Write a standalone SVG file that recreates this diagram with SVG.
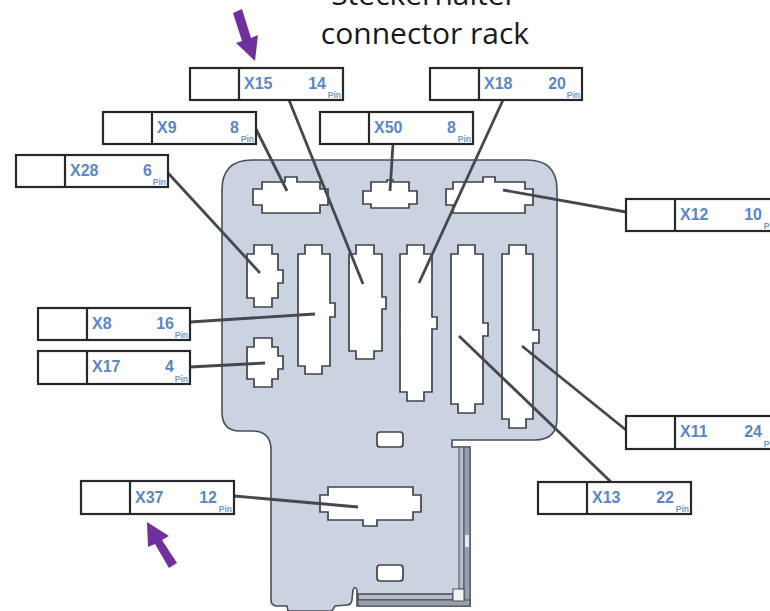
<svg xmlns="http://www.w3.org/2000/svg" width="770" height="611" viewBox="0 0 770 611">
<style>
.title{font-family:"Open Sans","Liberation Sans",sans-serif;font-size:30px;fill:#1a1a1a;text-anchor:middle}
.board{fill:#cbd2e0;stroke:#4a4f58;stroke-width:1.6}
.slot{fill:#fff;stroke:#3f434b;stroke-width:1.7}
.box{fill:#fff;stroke:#26282c;stroke-width:2.2}
.name,.num{font-family:"Liberation Sans",Arial,sans-serif;font-weight:700;font-size:16px;fill:#5b87c9}
.num{font-size:16px;text-anchor:end}
.pin{font-family:"Liberation Sans",Arial,sans-serif;font-weight:700;font-size:8.5px;fill:#6f97d0;text-anchor:end}
.conn{fill:none;stroke:#45484e;stroke-width:2.8}
.arrow{fill:#7030a0}
</style>
<text class="title" x="424" y="5">Steckerhalter</text>
<text class="title" x="425" y="44">connector rack</text>
<g id="board">
<path class="board" d="M222 190Q222 160 252 160L527 160Q557 160 557 190L557 418Q557 440 535 440L452 440L452 447L470 447L470 606L357 606L357 590Q355 585 353 590L352 600Q351 605 347 605L335 606L332 611L288 611L287 606L276 606Q271 605 271 600L271 450Q271 431 252 431L240 431Q222 431 222 412Z"/>
<rect x="459" y="447" width="5" height="142" fill="#b4bccb" stroke="#4a4f58"/>
<rect x="464" y="447" width="6" height="159" fill="#98a0b0" stroke="#4a4f58"/>
<rect x="465" y="535" width="4" height="12" fill="#e6e9ef"/>
<rect x="358" y="594" width="95" height="6" fill="#b4bccb" stroke="#3f434b" stroke-width="1.4"/>
<rect x="358" y="600" width="112" height="6" fill="#98a0b0" stroke="#4a4f58"/>
<rect x="453" y="589" width="11" height="12" fill="#f2f3f6" stroke="#4a4f58"/>
</g>
<g id="slots">
<path id="slot-x9" class="slot" d="M285 182V177H297V182H320V189H328V205H320V213H262V205H253V189H262V182Z"/>
<path id="slot-x50" class="slot" d="M371 182H387V180H393V182H409V191H417V204H409V208H371V204H363V191H371Z"/>
<path id="slot-x12" class="slot" d="M453 182H483V177H495V182H525V189H533V205H525V213H453V205H446V189H453Z"/>
<path id="slot-x28" class="slot" d="M254 245H272V254H278V270H283V283H278V298H272V307H254V298H247V254H254Z"/>
<path id="slot-x8" class="slot" d="M305 245H322V254H330V303H335V317H330V366H322V374H305V366H298V254H305Z"/>
<path id="slot-x15" class="slot" d="M356 245H374V254H382V297H386V309H382V351H374V359H356V351H349V254H356Z"/>
<path id="slot-x18" class="slot" d="M407 245H424V254H432V317H437V329H432V392H424V401H407V392H400V254H407Z"/>
<path id="slot-x13" class="slot" d="M458 245H475V254H483V323H488V336H483V404H475V413H458V404H451V254H458Z"/>
<path id="slot-x11" class="slot" d="M509 245H526V254H533V330H539V343H533V419H526V428H509V419H502V254H509Z"/>
<path id="slot-x17" class="slot" d="M254 338H272V347H278V356H283V369H278V379H272V387H254V379H247V347H254Z"/>
<path id="slot-x37" class="slot" d="M328 487H413V495H421V512H413V520H377V526H363V520H328V512H320V495H328Z"/>
<rect class="slot" x="377" y="432" width="26" height="15" rx="3"/>
<rect class="slot" x="377" y="565" width="26" height="16" rx="3"/>
</g>
<g id="connectors">
<path class="conn" d="M289 100L363 284"/>
<path class="conn" d="M503 100L419 283"/>
<path class="conn" d="M256 129L287 191"/>
<path class="conn" d="M393 144L390 191"/>
<path class="conn" d="M168 173L260 273"/>
<path class="conn" d="M190 322L315 314"/>
<path class="conn" d="M190 367L265 363"/>
<path class="conn" d="M626 212L503 190"/>
<path class="conn" d="M626 430L522 346"/>
<path class="conn" d="M611 482L459 336"/>
<path class="conn" d="M234 496L358 507"/>
</g>
<g id="x15"><rect class="box" x="190" y="68" width="153" height="32"/><path class="box" d="M239 68V100"/><text class="name" x="244" y="89">X15</text><text class="num" x="326" y="89">14</text><text class="pin" x="341" y="98">Pin</text></g>
<g id="x18"><rect class="box" x="430" y="68" width="152" height="32"/><path class="box" d="M479 68V100"/><text class="name" x="484" y="89">X18</text><text class="num" x="566" y="89">20</text><text class="pin" x="580" y="98">Pin</text></g>
<g id="x9"><rect class="box" x="103" y="112" width="153" height="32"/><path class="box" d="M152 112V144"/><text class="name" x="157" y="133">X9</text><text class="num" x="239" y="133">8</text><text class="pin" x="254" y="142">Pin</text></g>
<g id="x50"><rect class="box" x="320" y="112" width="153" height="32"/><path class="box" d="M369 112V144"/><text class="name" x="374" y="133">X50</text><text class="num" x="456" y="133">8</text><text class="pin" x="471" y="142">Pin</text></g>
<g id="x28"><rect class="box" x="16" y="155" width="152" height="32"/><path class="box" d="M65 155V187"/><text class="name" x="70" y="176">X28</text><text class="num" x="152" y="176">6</text><text class="pin" x="166" y="185">Pin</text></g>
<g id="x8"><rect class="box" x="38" y="308" width="152" height="32"/><path class="box" d="M87 308V340"/><text class="name" x="92" y="329">X8</text><text class="num" x="174" y="329">16</text><text class="pin" x="188" y="338">Pin</text></g>
<g id="x17"><rect class="box" x="38" y="351" width="152" height="33"/><path class="box" d="M87 351V384"/><text class="name" x="92" y="372">X17</text><text class="num" x="174" y="372">4</text><text class="pin" x="188" y="382">Pin</text></g>
<g id="x37"><rect class="box" x="81" y="481" width="153" height="33"/><path class="box" d="M130 481V514"/><text class="name" x="135" y="503">X37</text><text class="num" x="217" y="503">12</text><text class="pin" x="232" y="512">Pin</text></g>
<g id="x12"><rect class="box" x="626" y="199" width="153" height="32"/><path class="box" d="M675 199V231"/><text class="name" x="680" y="220">X12</text><text class="num" x="762" y="220">10</text><text class="pin" x="777" y="229">Pin</text></g>
<g id="x11"><rect class="box" x="626" y="416" width="153" height="33"/><path class="box" d="M675 416V449"/><text class="name" x="680" y="437">X11</text><text class="num" x="762" y="437">24</text><text class="pin" x="777" y="447">Pin</text></g>
<g id="x13"><rect class="box" x="538" y="482" width="153" height="32"/><path class="box" d="M587 482V514"/><text class="name" x="592" y="503">X13</text><text class="num" x="674" y="503">22</text><text class="pin" x="689" y="512">Pin</text></g>
<polygon class="arrow" points="233,13 242,9 251,38 258,35 255,61 236,43 242,41"/>
<polygon class="arrow" points="147,522 169,536 162,540 177,563 169,568 155,544 148,547"/>
</svg>
